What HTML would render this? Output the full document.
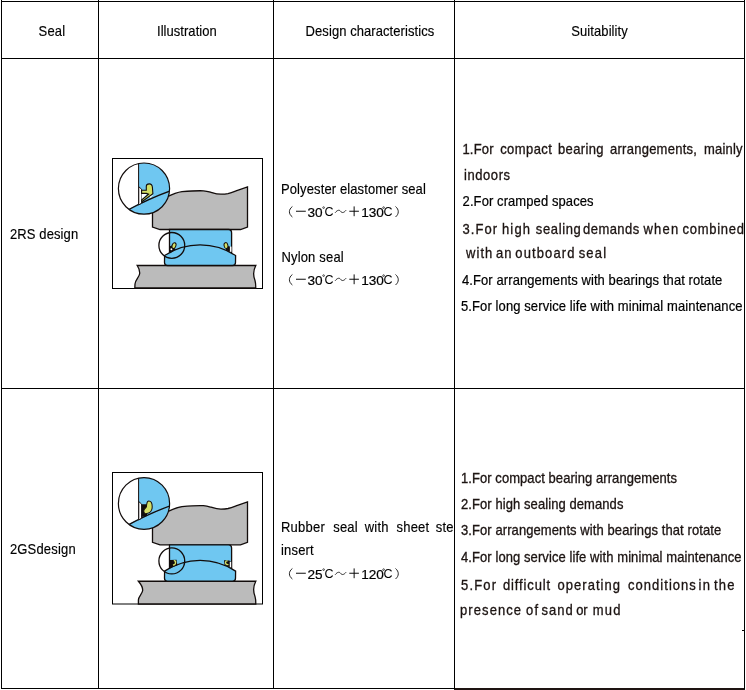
<!DOCTYPE html>
<html><head><meta charset="utf-8">
<style>
html,body{margin:0;padding:0;background:#fff;}
body{width:746px;height:690px;position:relative;overflow:hidden;will-change:transform;font-family:"Liberation Sans",sans-serif;font-size:13px;color:#000;}
.l{position:absolute;background:#000;}
.t{position:absolute;white-space:nowrap;line-height:15px;height:15px;transform:scaleY(1.09);transform-origin:0 12px;}
.hd{color:#000;-webkit-text-stroke:0.15px #000;}
.bk{color:#000;-webkit-text-stroke:0.2px #000;}
.br{color:#1c1412;-webkit-text-stroke:0.3px #1c1412;}
.s{color:#231815;}
.w2{word-spacing:2.5px;}
.w3{word-spacing:3.1px;}
svg{position:absolute;left:0;top:0;}
</style></head><body>
<svg width="746" height="690" viewBox="0 0 746 690">
<rect x="112.5" y="158.5" width="150" height="130" fill="#fff" stroke="#000" stroke-width="1"/>
<path d="M152.5,227 L152.5,199 L166,197.5 C172,194.5 177,192.3 182,191.7 C190,191 198,190.6 203.4,190.8 C207,191 209,191.7 211,192.3 C215,193.5 218,194.2 221,194.2 C224,194.2 226,194 228,193.6 C232,192.7 235,191.3 237.5,190.4 L247.5,187 L247.5,227 L240.5,229.5 L160,229.5 Z" fill="#bbbbbb" stroke="#120c0b" stroke-width="1.3"/>
<path d="M137.2,265.5 L255.8,265.5 C253.4,270 253.2,276 255,280.5 C255.8,283 255.8,286 255.8,288 L134.8,288 L135,284 C135.2,280 139.2,277 139.6,274 C140,271.5 139.5,269 137.2,265.5 Z" fill="#bbbbbb" stroke="#120c0b" stroke-width="1.3"/>
<path d="M169.5,259 L169.5,229.5 L228.5,229.5 Q231.6,229.5 231.6,233 L231.6,259 Z" fill="#6fc7f1" stroke="#120c0b" stroke-width="1.3"/>
<path d="M164.6,255.5 A64.75,64.75 0 0 1 235.6,255.5 L235.5,262.5 Q235.5,265.5 232.5,265.5 L167.5,265.5 Q164.5,265.5 164.5,262.5 Z" fill="#6fc7f1" stroke="#120c0b" stroke-width="1.3"/>
<path d="M169.8,246.2 L172.8,245.2 L175.8,249.6 L170,253.2 Z" fill="#120c0b"/><circle cx="171.4" cy="249.2" r="0.95" fill="#fff"/><ellipse cx="174" cy="245.6" rx="1.9" ry="3" transform="rotate(18 174 245.6)" fill="#d3df66" stroke="#120c0b" stroke-width="1"/><path d="M227,246 L230,246.5 L231.6,252.8 L225.8,250 Z" fill="#120c0b"/><rect x="229.9" y="246.6" width="1.6" height="5.2" fill="#fff"/><ellipse cx="226" cy="245.6" rx="1.9" ry="3" transform="rotate(-12 226 245.6)" fill="#d3df66" stroke="#120c0b" stroke-width="1"/>
<circle cx="171.8" cy="245.4" r="12.9" fill="none" stroke="#120c0b" stroke-width="1.3"/>
<clipPath id="CP1"><circle cx="144" cy="188.6" r="25.6"/></clipPath>
<g clip-path="url(#CP1)"><rect x="110" y="160" width="70" height="60" fill="#fff"/><path d="M138.6,150 L180,150 L180,191 L120,213 L138.6,205 Z" fill="#6fc7f1"/><path d="M120,214 Q150,196 180,187 L180,230 L110,230 Z" fill="#6fc7f1"/><path d="M138.6,150 L138.6,205" stroke="#120c0b" stroke-width="1" fill="none"/><path d="M126,211 Q150,198 172,190.3" stroke="#120c0b" stroke-width="1.3" fill="none"/><path d="M138.8,186.8 L141.6,189.2 L141.6,203 L138.8,205 Z" fill="#fff" stroke="#120c0b" stroke-width="0.9"/><path d="M141.6,194 L147,194 L141.6,200 Z" fill="#fff"/><path d="M149,196.5 L153.5,194.5 L150.5,198 Z" fill="#fff"/><path d="M141.6,190.2 L146.3,190.2 L146.3,186.3 C146.3,184.7 147.6,183.9 149.3,183.9 C151,183.9 152.2,185.2 152.4,187.2 L152.9,193.8 L141.9,201.8 L141.6,200 L148.6,194.2 L146.4,193.4 L141.6,193.4 Z" fill="#d3df66" stroke="#120c0b" stroke-width="1.1"/></g>
<circle cx="144" cy="188.6" r="25.6" fill="none" stroke="#120c0b" stroke-width="1.2"/>
<rect x="112.5" y="472.5" width="150" height="131.5" fill="#fff" stroke="#000" stroke-width="1"/>
<g transform="matrix(1 0 0 1.011538 0 312.677)">
<path d="M152.5,227 L152.5,199 L166,197.5 C172,194.5 177,192.3 182,191.7 C190,191 198,190.6 203.4,190.8 C207,191 209,191.7 211,192.3 C215,193.5 218,194.2 221,194.2 C224,194.2 226,194 228,193.6 C232,192.7 235,191.3 237.5,190.4 L247.5,187 L247.5,227 L240.5,229.5 L160,229.5 Z" fill="#bbbbbb" stroke="#120c0b" stroke-width="1.3"/>
<path d="M138.4,265.5 L255.8,265.5 C253.4,270 253.2,276 255,280.5 C255.8,283 255.8,286 255.8,288 L138.4,288 L138.4,284 C138.4,280.5 142.7,277.5 142.7,274.3 C142.7,271.5 141.5,269 138.4,265.5 Z" fill="#bbbbbb" stroke="#120c0b" stroke-width="1.3"/>
<path d="M169.5,259 L169.5,229.5 L228.5,229.5 Q231.6,229.5 231.6,233 L231.6,259 Z" fill="#6fc7f1" stroke="#120c0b" stroke-width="1.3"/>
<path d="M164.6,255.5 A64.75,64.75 0 0 1 235.6,255.5 L235.5,262.5 Q235.5,265.5 232.5,265.5 L167.5,265.5 Q164.5,265.5 164.5,262.5 Z" fill="#6fc7f1" stroke="#120c0b" stroke-width="1.3"/>
<path d="M169.6,244.6 L176.6,244.2 L177.4,249.6 L169.6,253 Z" fill="#120c0b"/><path d="M173.8,244.6 C175.6,244.3 176.5,245.4 176.3,247.1 C176.1,248.9 174.9,250 173.1,250.1 L172.8,248.8 C174,248.7 174.8,248.1 174.8,247.1 C174.8,246.2 174.3,245.8 173.8,245.8 Z" fill="#d3df66"/><path d="M224,244.8 L229.6,245 L229.6,251.5 L224.6,249.4 Z" fill="#120c0b"/><path d="M227.6,244.9 C225.7,244.6 224.7,246 224.9,247.8 C225.1,249.3 226.6,250 228.6,249.6 L228.4,248.4 C227.1,248.6 226.3,248.2 226.2,247.3 C226.1,246.4 226.8,245.9 227.7,246.1 Z" fill="#d3df66"/><rect x="229.7" y="246.2" width="1.7" height="5.6" fill="#fff" stroke="#120c0b" stroke-width="0.5"/>
<circle cx="171.8" cy="245.4" r="12.9" fill="none" stroke="#120c0b" stroke-width="1.3"/>
<clipPath id="CP2"><circle cx="144" cy="188.6" r="25.6"/></clipPath>
<g clip-path="url(#CP2)"><rect x="110" y="160" width="70" height="60" fill="#fff"/><path d="M138.6,150 L180,150 L180,191 L120,213 L138.6,205 Z" fill="#6fc7f1"/><path d="M120,214 Q150,196 180,187 L180,230 L110,230 Z" fill="#6fc7f1"/><path d="M138.6,150 L138.6,205" stroke="#120c0b" stroke-width="1" fill="none"/><path d="M126,211 Q150,198 172,190.3" stroke="#120c0b" stroke-width="1.3" fill="none"/><path d="M138.8,186.8 L141.6,189.2 L141.6,203 L138.8,205 Z" fill="#fff" stroke="#120c0b" stroke-width="0.9"/><path d="M141.4,189.5 L147,189.5 L147,201 L141.4,202 Z" fill="#120c0b"/><path d="M148.8,186.2 C151,186.2 152.2,188.8 152.2,191.8 C152.2,195.2 150.2,198 146.8,198.6 C144.8,199 143.6,197.6 143.8,195.8 C144,194.2 145,193.4 146,192.6 C146.8,191.8 146.4,190.6 146.8,189 C147.1,187.2 147.6,186.2 148.8,186.2 Z" fill="#d3df66" stroke="#120c0b" stroke-width="1"/></g>
<circle cx="144" cy="188.6" r="25.6" fill="none" stroke="#120c0b" stroke-width="1.2"/>
</g>
<path d="M292.4,206.50 C288.4,209.50 288.4,214.00 292.4,217.00" fill="none" stroke="#000" stroke-width="0.85"/>
<rect x="296" y="210.75" width="9.8" height="0.95" fill="#000"/>
<text x="307.5" y="216.50" font-size="13.6" font-family="Liberation Sans" stroke="#000" stroke-width="0.2">30</text>
<circle cx="323.6" cy="207.60" r="0.85" fill="none" stroke="#000" stroke-width="0.65"/>
<text x="324.4" y="216.30" font-size="12.5" font-family="Liberation Sans">C</text>
<path d="M335.1,212.80 C337.6,209.60 339.5,209.80 340.6,211.30 C341.8,213.00 343.6,213.20 346.1,210.20" fill="none" stroke="#000" stroke-width="0.8"/>
<rect x="349.3" y="210.75" width="9.6" height="0.95" fill="#000"/>
<rect x="353.65" y="206.40" width="0.95" height="9.8" fill="#000"/>
<text x="361.2" y="216.50" font-size="13.6" font-family="Liberation Sans" stroke="#000" stroke-width="0.2">130</text>
<circle cx="383.6" cy="207.60" r="0.85" fill="none" stroke="#000" stroke-width="0.65"/>
<text x="383.6" y="216.30" font-size="12.5" font-family="Liberation Sans">C</text>
<path d="M395.5,206.50 C399.2,209.50 399.2,214.00 395.5,217.00" fill="none" stroke="#000" stroke-width="0.85"/>
<path d="M292.4,274.50 C288.4,277.50 288.4,282.00 292.4,285.00" fill="none" stroke="#000" stroke-width="0.85"/>
<rect x="296" y="278.75" width="9.8" height="0.95" fill="#000"/>
<text x="307.5" y="284.50" font-size="13.6" font-family="Liberation Sans" stroke="#000" stroke-width="0.2">30</text>
<circle cx="323.6" cy="275.60" r="0.85" fill="none" stroke="#000" stroke-width="0.65"/>
<text x="324.4" y="284.30" font-size="12.5" font-family="Liberation Sans">C</text>
<path d="M335.1,280.80 C337.6,277.60 339.5,277.80 340.6,279.30 C341.8,281.00 343.6,281.20 346.1,278.20" fill="none" stroke="#000" stroke-width="0.8"/>
<rect x="349.3" y="278.75" width="9.6" height="0.95" fill="#000"/>
<rect x="353.65" y="274.40" width="0.95" height="9.8" fill="#000"/>
<text x="361.2" y="284.50" font-size="13.6" font-family="Liberation Sans" stroke="#000" stroke-width="0.2">130</text>
<circle cx="383.6" cy="275.60" r="0.85" fill="none" stroke="#000" stroke-width="0.65"/>
<text x="383.6" y="284.30" font-size="12.5" font-family="Liberation Sans">C</text>
<path d="M395.5,274.50 C399.2,277.50 399.2,282.00 395.5,285.00" fill="none" stroke="#000" stroke-width="0.85"/>
<path d="M292.4,568.50 C288.4,571.50 288.4,576.00 292.4,579.00" fill="none" stroke="#000" stroke-width="0.85"/>
<rect x="296" y="572.75" width="9.8" height="0.95" fill="#000"/>
<text x="307.5" y="578.50" font-size="13.6" font-family="Liberation Sans" stroke="#000" stroke-width="0.2">25</text>
<circle cx="323.6" cy="569.60" r="0.85" fill="none" stroke="#000" stroke-width="0.65"/>
<text x="324.4" y="578.30" font-size="12.5" font-family="Liberation Sans">C</text>
<path d="M335.1,574.80 C337.6,571.60 339.5,571.80 340.6,573.30 C341.8,575.00 343.6,575.20 346.1,572.20" fill="none" stroke="#000" stroke-width="0.8"/>
<rect x="349.3" y="572.75" width="9.6" height="0.95" fill="#000"/>
<rect x="353.65" y="568.40" width="0.95" height="9.8" fill="#000"/>
<text x="361.2" y="578.50" font-size="13.6" font-family="Liberation Sans" stroke="#000" stroke-width="0.2">120</text>
<circle cx="383.6" cy="569.60" r="0.85" fill="none" stroke="#000" stroke-width="0.65"/>
<text x="383.6" y="578.30" font-size="12.5" font-family="Liberation Sans">C</text>
<path d="M395.5,568.50 C399.2,571.50 399.2,576.00 395.5,579.00" fill="none" stroke="#000" stroke-width="0.85"/>
</svg>
<div class="l" style="left:1px;top:1px;width:744px;height:1px"></div>
<div class="l" style="left:1px;top:58px;width:744px;height:1px"></div>
<div class="l" style="left:1px;top:388px;width:744px;height:1px"></div>
<div class="l" style="left:1px;top:688px;width:454px;height:1px"></div>
<div class="l" style="left:454px;top:688px;width:291px;height:2px;background:#1e1412"></div>
<div class="l" style="left:1px;top:0;width:1px;height:689px"></div>
<div class="l" style="left:98px;top:0;width:1px;height:689px"></div>
<div class="l" style="left:273px;top:0;width:1px;height:689px"></div>
<div class="l" style="left:454px;top:0;width:1px;height:689px"></div>
<div class="l" style="left:744px;top:0;width:1px;height:689px"></div>
<div class="l" style="left:742px;top:630px;width:2px;height:1px"></div>
<div class="t hd" style="left:38.60px;top:23.50px;letter-spacing:0.167px">Seal</div>
<div class="t hd" style="left:157.00px;top:23.50px;letter-spacing:0.045px">Illustration</div>
<div class="t hd" style="left:305.60px;top:23.50px;letter-spacing:0.071px">Design characteristics</div>
<div class="t hd" style="left:571.30px;top:23.50px;letter-spacing:0.080px">Suitability</div>
<div class="t hd" style="left:9.90px;top:227.00px;letter-spacing:0.122px">2RS design</div>
<div class="t hd" style="left:9.90px;top:542.00px;letter-spacing:0.175px">2GSdesign</div>
<div class="t hd" style="left:281.00px;top:182.00px;letter-spacing:0.109px">Polyester elastomer seal</div>
<div class="t hd" style="left:281.40px;top:250.00px;letter-spacing:0.178px">Nylon seal</div>
<div style="position:absolute;left:274px;top:0;width:180px;height:690px;overflow:hidden">
<div class="t hd" style="left:7.00px;top:520.00px;letter-spacing:0.220px">Rubber</div><div class="t hd" style="left:59.30px;top:520.00px;letter-spacing:0.167px">seal</div><div class="t hd" style="left:90.80px;top:520.00px;letter-spacing:0.167px">with</div><div class="t hd" style="left:122.50px;top:520.00px;letter-spacing:0.200px">sheet</div><div class="t hd" style="left:161.70px;top:520.00px;letter-spacing:0.200px">steel</div>
<div class="t hd" style="left:7.00px;top:543.00px;letter-spacing:0.180px">insert</div>
</div>
<div style="position:absolute;left:455px;top:0;width:289px;height:690px;overflow:hidden">
<div class="t br" style="left:7.40px;top:141.50px;letter-spacing:0.225px">1.For</div><div class="t br" style="left:45.20px;top:141.50px;letter-spacing:0.417px">compact</div><div class="t br" style="left:103.00px;top:141.50px;letter-spacing:0.350px">bearing</div><div class="t br" style="left:155.00px;top:141.50px;letter-spacing:0.258px">arrangements,</div><div class="t br" style="left:249.00px;top:141.50px;letter-spacing:0.200px">mainly</div>
<div class="t br" style="left:9.00px;top:167.60px;letter-spacing:0.567px">indoors</div>
<div class="t bk" style="left:7.60px;top:194.40px;letter-spacing:0.084px">2.For cramped spaces</div>
<div class="t br" style="left:7.40px;top:221.50px;letter-spacing:1.075px">3.For</div><div class="t br" style="left:46.90px;top:221.50px;letter-spacing:1.200px">high</div><div class="t br" style="left:80.80px;top:221.50px;letter-spacing:0.633px">sealing</div><div class="t br" style="left:128.10px;top:221.50px;letter-spacing:0.433px">demands</div><div class="t br" style="left:188.45px;top:221.50px;letter-spacing:1.200px">when</div><div class="t br" style="left:227.50px;top:221.50px;letter-spacing:0.714px">combined</div>
<div class="t br" style="left:11.00px;top:246.20px;letter-spacing:1.067px">with</div><div class="t br" style="left:41.00px;top:246.20px;letter-spacing:0.900px">an</div><div class="t br" style="left:60.30px;top:246.20px;letter-spacing:1.129px">outboard</div><div class="t br" style="left:123.65px;top:246.20px;letter-spacing:1.200px">seal</div>
<div class="t bk" style="left:7.00px;top:273.00px;letter-spacing:0.088px">4.For arrangements with bearings that rotate</div>
<div class="t bk" style="left:6.00px;top:299.10px;letter-spacing:0.102px">5.For long service life with minimal maintenance</div>
<div class="t br" style="left:6.00px;top:470.70px;letter-spacing:0.061px">1.For compact bearing arrangements</div>
<div class="t br" style="left:6.00px;top:497.20px;letter-spacing:0.080px">2.For high sealing demands</div>
<div class="t br" style="left:6.00px;top:523.40px;letter-spacing:0.084px">3.For arrangements with bearings that rotate</div>
<div class="t br" style="left:6.00px;top:549.70px;letter-spacing:0.081px">4.For long service life with minimal maintenance</div>
<div class="t br" style="left:6.00px;top:577.90px;letter-spacing:1.175px">5.For</div><div class="t br" style="left:47.90px;top:577.90px;letter-spacing:0.888px">difficult</div><div class="t br" style="left:102.60px;top:577.90px;letter-spacing:1.025px">operating</div><div class="t br" style="left:173.00px;top:577.90px;letter-spacing:1.033px">conditions</div><div class="t br" style="left:243.60px;top:577.90px;letter-spacing:1.200px">in</div><div class="t br" style="left:259.10px;top:577.90px;letter-spacing:1.150px">the</div>
<div class="t br" style="left:5.00px;top:603.40px;letter-spacing:1.086px">presence</div><div class="t br" style="left:71.00px;top:603.40px;letter-spacing:1.200px">of</div><div class="t br" style="left:86.40px;top:603.40px;letter-spacing:1.033px">sand</div><div class="t br" style="left:121.20px;top:603.40px;letter-spacing:-0.100px">or</div><div class="t br" style="left:137.70px;top:603.40px;letter-spacing:1.200px">mud</div>
</div>
</body></html>
